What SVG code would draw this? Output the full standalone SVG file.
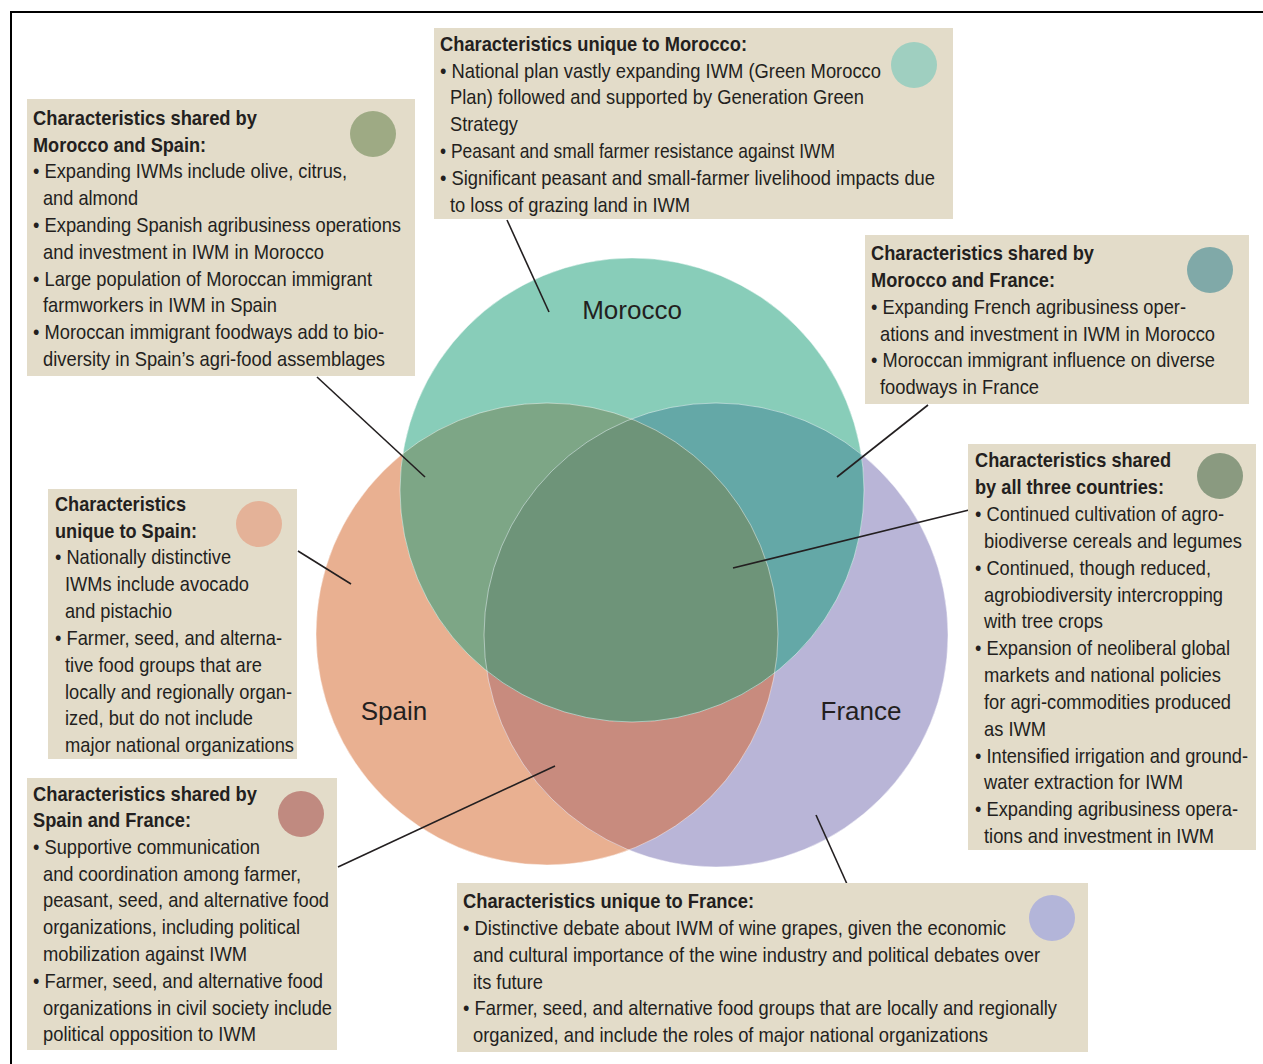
<svg xmlns="http://www.w3.org/2000/svg" width="1263" height="1064" viewBox="0 0 1263 1064">
<style>
.box{fill:#E3DCC9}
.t{font-family:"Liberation Sans",Arial,sans-serif;font-size:21px;fill:#231F20}
.b{font-weight:bold}
.lbl{font-family:"Liberation Sans",Arial,sans-serif;font-size:26px;fill:#231F20;text-anchor:middle}
.c{stroke:#231F20;stroke-width:1.6;fill:none}
.edge{fill:none;stroke:#ffffff;stroke-opacity:0.45;stroke-width:1}
</style>
<defs>
<clipPath id="clipS"><circle cx="547" cy="634" r="231"/></clipPath>
<clipPath id="clipF"><circle cx="716" cy="635" r="232"/></clipPath>
</defs>
<rect x="0" y="0" width="1263" height="1064" fill="#ffffff"/>
<rect x="11" y="12" width="1270" height="1070" fill="none" stroke="#000" stroke-width="2"/>

<g id="venn">
<circle cx="547" cy="634" r="231" fill="#E9B091"/>
<circle cx="716" cy="635" r="232" fill="#B9B5D7"/>
<circle cx="632" cy="490" r="232" fill="#88CDB9"/>
<circle cx="716" cy="635" r="232" fill="#C88B7E" clip-path="url(#clipS)"/>
<circle cx="632" cy="490" r="232" fill="#7DA686" clip-path="url(#clipS)"/>
<circle cx="632" cy="490" r="232" fill="#64A8A7" clip-path="url(#clipF)"/>
<g clip-path="url(#clipS)"><circle cx="632" cy="490" r="232" fill="#6E9479" clip-path="url(#clipF)"/></g>
<circle class="edge" cx="547" cy="634" r="231"/>
<circle class="edge" cx="716" cy="635" r="232"/>
<circle class="edge" cx="632" cy="490" r="232"/>
<text class="lbl" x="632" y="319">Morocco</text>
<text class="lbl" x="394" y="720">Spain</text>
<text class="lbl" x="861" y="720">France</text>
</g>

<g id="connectors">
<line class="c" x1="317" y1="377" x2="425" y2="477"/>
<line class="c" x1="507" y1="220" x2="549" y2="312"/>
<line class="c" x1="928" y1="405" x2="837" y2="477"/>
<line class="c" x1="969" y1="510" x2="733" y2="568"/>
<line class="c" x1="298" y1="551" x2="351" y2="584"/>
<line class="c" x1="338" y1="867" x2="555" y2="766"/>
<line class="c" x1="816" y1="815" x2="847" y2="884"/>
</g>

<g id="box-morocco-spain">
<rect class="box" x="27" y="99" width="388" height="277"/>
<circle cx="373" cy="134" r="23" fill="#9EAA84"/>
<text class="t b" x="33" y="125" textLength="224" lengthAdjust="spacingAndGlyphs">Characteristics shared by</text>
<text class="t b" x="33" y="152" textLength="173" lengthAdjust="spacingAndGlyphs">Morocco and Spain:</text>
<text class="t" x="33" y="178" textLength="314" lengthAdjust="spacingAndGlyphs">• Expanding IWMs include olive, citrus,</text>
<text class="t" x="43" y="205" textLength="95" lengthAdjust="spacingAndGlyphs">and almond</text>
<text class="t" x="33" y="232" textLength="368" lengthAdjust="spacingAndGlyphs">• Expanding Spanish agribusiness operations</text>
<text class="t" x="43" y="259" textLength="281" lengthAdjust="spacingAndGlyphs">and investment in IWM in Morocco</text>
<text class="t" x="33" y="286" textLength="339" lengthAdjust="spacingAndGlyphs">• Large population of Moroccan immigrant</text>
<text class="t" x="43" y="312" textLength="234" lengthAdjust="spacingAndGlyphs">farmworkers in IWM in Spain</text>
<text class="t" x="33" y="339" textLength="351" lengthAdjust="spacingAndGlyphs">• Moroccan immigrant foodways add to bio-</text>
<text class="t" x="43" y="366" textLength="342" lengthAdjust="spacingAndGlyphs">diversity in Spain’s agri-food assemblages</text>
</g>

<g id="box-morocco">
<rect class="box" x="434" y="28" width="519" height="191"/>
<circle cx="914" cy="65" r="23" fill="#9FCFC0"/>
<text class="t b" x="440" y="51" textLength="307" lengthAdjust="spacingAndGlyphs">Characteristics unique to Morocco:</text>
<text class="t" x="440" y="78" textLength="441" lengthAdjust="spacingAndGlyphs">• National plan vastly expanding IWM (Green Morocco</text>
<text class="t" x="450" y="104" textLength="414" lengthAdjust="spacingAndGlyphs">Plan) followed and supported by Generation Green</text>
<text class="t" x="450" y="131" textLength="68" lengthAdjust="spacingAndGlyphs">Strategy</text>
<text class="t" x="440" y="158" textLength="395" lengthAdjust="spacingAndGlyphs">• Peasant and small farmer resistance against IWM</text>
<text class="t" x="440" y="185" textLength="495" lengthAdjust="spacingAndGlyphs">• Significant peasant and small-farmer livelihood impacts due</text>
<text class="t" x="450" y="212" textLength="240" lengthAdjust="spacingAndGlyphs">to loss of grazing land in IWM</text>
</g>

<g id="box-morocco-france">
<rect class="box" x="865" y="235" width="384" height="169"/>
<circle cx="1210" cy="270" r="23" fill="#80A9A8"/>
<text class="t b" x="871" y="260" textLength="223" lengthAdjust="spacingAndGlyphs">Characteristics shared by</text>
<text class="t b" x="871" y="287" textLength="184" lengthAdjust="spacingAndGlyphs">Morocco and France:</text>
<text class="t" x="871" y="314" textLength="315" lengthAdjust="spacingAndGlyphs">• Expanding French agribusiness oper-</text>
<text class="t" x="880" y="341" textLength="335" lengthAdjust="spacingAndGlyphs">ations and investment in IWM in Morocco</text>
<text class="t" x="871" y="367" textLength="344" lengthAdjust="spacingAndGlyphs">• Moroccan immigrant influence on diverse</text>
<text class="t" x="880" y="394" textLength="159" lengthAdjust="spacingAndGlyphs">foodways in France</text>
</g>

<g id="box-all-three">
<rect class="box" x="968" y="444" width="288" height="406"/>
<circle cx="1220" cy="476" r="23" fill="#8A9A80"/>
<text class="t b" x="975" y="467" textLength="196" lengthAdjust="spacingAndGlyphs">Characteristics shared</text>
<text class="t b" x="975" y="494" textLength="189" lengthAdjust="spacingAndGlyphs">by all three countries:</text>
<text class="t" x="975" y="521" textLength="249" lengthAdjust="spacingAndGlyphs">• Continued cultivation of agro-</text>
<text class="t" x="984" y="548" textLength="258" lengthAdjust="spacingAndGlyphs">biodiverse cereals and legumes</text>
<text class="t" x="975" y="575" textLength="236" lengthAdjust="spacingAndGlyphs">• Continued, though reduced,</text>
<text class="t" x="984" y="602" textLength="239" lengthAdjust="spacingAndGlyphs">agrobiodiversity intercropping</text>
<text class="t" x="984" y="628" textLength="119" lengthAdjust="spacingAndGlyphs">with tree crops</text>
<text class="t" x="975" y="655" textLength="255" lengthAdjust="spacingAndGlyphs">• Expansion of neoliberal global</text>
<text class="t" x="984" y="682" textLength="237" lengthAdjust="spacingAndGlyphs">markets and national policies</text>
<text class="t" x="984" y="709" textLength="247" lengthAdjust="spacingAndGlyphs">for agri-commodities produced</text>
<text class="t" x="984" y="736" textLength="62" lengthAdjust="spacingAndGlyphs">as IWM</text>
<text class="t" x="975" y="763" textLength="273" lengthAdjust="spacingAndGlyphs">• Intensified irrigation and ground-</text>
<text class="t" x="984" y="789" textLength="199" lengthAdjust="spacingAndGlyphs">water extraction for IWM</text>
<text class="t" x="975" y="816" textLength="263" lengthAdjust="spacingAndGlyphs">• Expanding agribusiness opera-</text>
<text class="t" x="984" y="843" textLength="230" lengthAdjust="spacingAndGlyphs">tions and investment in IWM</text>
</g>

<g id="box-spain">
<rect class="box" x="48" y="489" width="249" height="270"/>
<circle cx="259" cy="524" r="23" fill="#E4B298"/>
<text class="t b" x="55" y="511" textLength="131" lengthAdjust="spacingAndGlyphs">Characteristics</text>
<text class="t b" x="55" y="538" textLength="142" lengthAdjust="spacingAndGlyphs">unique to Spain:</text>
<text class="t" x="55" y="564" textLength="176" lengthAdjust="spacingAndGlyphs">• Nationally distinctive</text>
<text class="t" x="65" y="591" textLength="184" lengthAdjust="spacingAndGlyphs">IWMs include avocado</text>
<text class="t" x="65" y="618" textLength="107" lengthAdjust="spacingAndGlyphs">and pistachio</text>
<text class="t" x="55" y="645" textLength="227" lengthAdjust="spacingAndGlyphs">• Farmer, seed, and alterna-</text>
<text class="t" x="65" y="672" textLength="197" lengthAdjust="spacingAndGlyphs">tive food groups that are</text>
<text class="t" x="65" y="699" textLength="227" lengthAdjust="spacingAndGlyphs">locally and regionally organ-</text>
<text class="t" x="65" y="725" textLength="188" lengthAdjust="spacingAndGlyphs">ized, but do not include</text>
<text class="t" x="65" y="752" textLength="229" lengthAdjust="spacingAndGlyphs">major national organizations</text>
</g>

<g id="box-spain-france">
<rect class="box" x="27" y="778" width="310" height="272"/>
<circle cx="301" cy="814" r="23" fill="#C08A80"/>
<text class="t b" x="33" y="801" textLength="224" lengthAdjust="spacingAndGlyphs">Characteristics shared by</text>
<text class="t b" x="33" y="827" textLength="158" lengthAdjust="spacingAndGlyphs">Spain and France:</text>
<text class="t" x="33" y="854" textLength="227" lengthAdjust="spacingAndGlyphs">• Supportive communication</text>
<text class="t" x="43" y="881" textLength="258" lengthAdjust="spacingAndGlyphs">and coordination among farmer,</text>
<text class="t" x="43" y="907" textLength="286" lengthAdjust="spacingAndGlyphs">peasant, seed, and alternative food</text>
<text class="t" x="43" y="934" textLength="257" lengthAdjust="spacingAndGlyphs">organizations, including political</text>
<text class="t" x="43" y="961" textLength="204" lengthAdjust="spacingAndGlyphs">mobilization against IWM</text>
<text class="t" x="33" y="988" textLength="290" lengthAdjust="spacingAndGlyphs">• Farmer, seed, and alternative food</text>
<text class="t" x="43" y="1015" textLength="289" lengthAdjust="spacingAndGlyphs">organizations in civil society include</text>
<text class="t" x="43" y="1041" textLength="213" lengthAdjust="spacingAndGlyphs">political opposition to IWM</text>
</g>

<g id="box-france">
<rect class="box" x="457" y="883" width="631" height="169"/>
<circle cx="1052" cy="918" r="23" fill="#B3B5D9"/>
<text class="t b" x="463" y="908" textLength="291" lengthAdjust="spacingAndGlyphs">Characteristics unique to France:</text>
<text class="t" x="463" y="935" textLength="543" lengthAdjust="spacingAndGlyphs">• Distinctive debate about IWM of wine grapes, given the economic</text>
<text class="t" x="473" y="962" textLength="567" lengthAdjust="spacingAndGlyphs">and cultural importance of the wine industry and political debates over</text>
<text class="t" x="473" y="989" textLength="70" lengthAdjust="spacingAndGlyphs">its future</text>
<text class="t" x="463" y="1015" textLength="594" lengthAdjust="spacingAndGlyphs">• Farmer, seed, and alternative food groups that are locally and regionally</text>
<text class="t" x="473" y="1042" textLength="515" lengthAdjust="spacingAndGlyphs">organized, and include the roles of major national organizations</text>
</g>
</svg>
